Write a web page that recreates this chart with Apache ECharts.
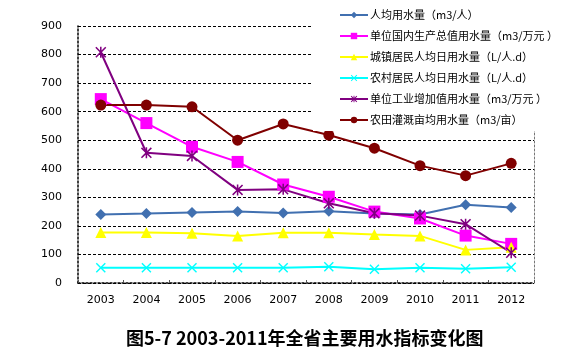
<!DOCTYPE html>
<html>
<head>
<meta charset="utf-8">
<script src="https://cdn.jsdelivr.net/npm/echarts@6/dist/echarts.min.js"></script>
<style>
html,body{margin:0;padding:0;background:#fff;}
#chart{width:576px;height:351px;}
</style>
</head>
<body>
<div id="chart"></div>
<script>
// 数据
var years = ['2003','2004','2005','2006','2007','2008','2009','2010','2011','2012']
var yTicks = [0,100,200,300,400,500,600,700,800,900]
var perCapita = [240,243,247,250,245,251,243,240,274,264]
var perGdp = [644,560,477,424,345,302,250,226,166,137]
var urbanDaily = [177,177,174,165,176,176,170,165,116,125]
var ruralDaily = [53,53,53,53,53,57,48,53,50,55]
var perIndustry = [808,456,445,326,328,279,244,236,206,106]
var perMu = [623,623,617,500,557,518,472,411,376,419]

var names = [
	'人均用水量（m3/人）',
	'单位国内生产总值用水量（m3/万元 ）',
	'城镇居民人均日用水量（L/人.d）',
	'农村居民人均日用水量（L/人.d）',
	'单位工业增加值用水量（m3/万元 ）',
	'农田灌溉亩均用水量（m3/亩）'
]

var xMark = 'path://M0,1L1,0L5,4L9,0L10,1L6,5L10,9L9,10L5,6L1,10L0,9L4,5Z'
var starMark = 'path://M0,1L1,0L5,4L9,0L10,1L6,5L10,9L9,10L5,6L1,10L0,9L4,5Z M4.3,0L5.7,0L5.7,10L4.3,10Z'

function lineSeries(name, data, color, symbol, size){
	return {
		type:'line',
		name:name,
		data:data,
		symbol:symbol,
		symbolSize:size,
		color:color,
		lineStyle:{color:color,width:2},
		itemStyle:{color:color},
		emphasis:{disabled:true},
		animation:false
	}
}

var font = 'DejaVu Sans'
var chart = echarts.init(document.getElementById('chart'))
chart.setOption({
	backgroundColor:'#fff',
	title:{
		text:'图5-7 2003-2011年全省主要用水指标变化图',
		left:121,
		top:324,
		textStyle:{
			fontFamily:'Noto Sans CJK SC',
			fontSize:18,
			fontWeight:'bold',
			color:'#000'
		}
	},
	legend:{
		orient:'vertical',
		left:313,
		top:0,
		padding:[9,10,5,26],
		itemGap:9,
		itemWidth:28,
		itemHeight:8,
		backgroundColor:'#fff',
		data:names,
		textStyle:{
			fontFamily:'Noto Sans CJK SC',
			fontSize:11,
			lineHeight:12,
			color:'#000',
			padding:[0,0,0,-3]
		}
	},
	grid:{
		left:78,
		right:42,
		top:26,
		bottom:68
	},
	xAxis:{
		type:'category',
		data:years,
		boundaryGap:true,
		axisLine:{show:true,lineStyle:{color:'#000',type:[2,2],width:1.5}},
		axisTick:{show:true,inside:true,length:3,lineStyle:{color:'#555'}},
		axisLabel:{fontFamily:font,fontSize:11,color:'#000',margin:12},
		splitLine:{show:false}
	},
	yAxis:[{
		type:'value',
		min:0,
		max:900,
		interval:100,
		axisLine:{show:true,lineStyle:{color:'#000',type:[2,2],width:1.5}},
		axisTick:{show:false},
		axisLabel:{fontFamily:font,fontSize:11,color:'#000',margin:16},
		splitLine:{show:true,lineStyle:{color:'#000',type:[3,2],width:1}}
	},{
		type:'value',
		min:0,
		max:900,
		interval:100,
		position:'right',
		axisLine:{show:true,lineStyle:{color:'#777',type:[2,2],width:1}},
		axisTick:{show:false},
		axisLabel:{show:false},
		splitLine:{show:false}
	}],
	series:[
		lineSeries(names[0], perCapita, '#4170b0', 'diamond', 11),
		lineSeries(names[1], perGdp, '#ff00ff', 'rect', 12),
		lineSeries(names[2], urbanDaily, '#ffff00', 'triangle', 11),
		lineSeries(names[3], ruralDaily, '#00ffff', xMark, 10),
		lineSeries(names[4], perIndustry, '#800080', starMark, 11),
		lineSeries(names[5], perMu, '#800000', 'circle', 11)
	]
})
</script>
</body>
</html>
